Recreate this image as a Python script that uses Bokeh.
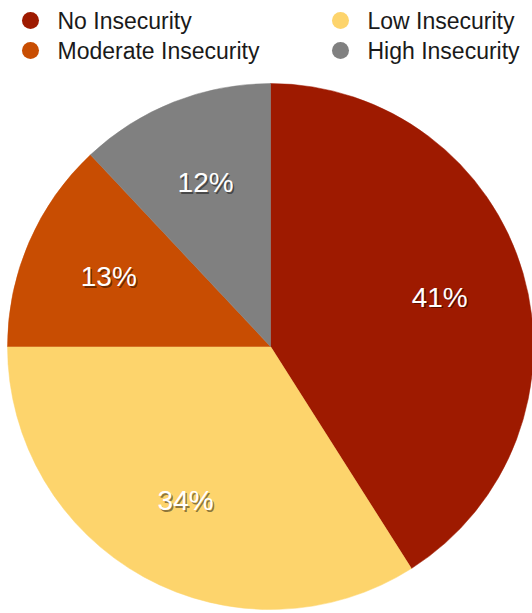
import numpy as np
from bokeh.plotting import figure
from bokeh.models import ColumnDataSource
from bokeh.core.properties import value
from bokeh.embed import file_html
from bokeh.resources import INLINE

categories = ["No Insecurity", "Low Insecurity", "Moderate Insecurity", "High Insecurity"]
shares = [41, 34, 13, 12]
colors = ["#9E1A00", "#FDD46C", "#C84D02", "#808080"]
labels = ["41%", "34%", "13%", "12%"]

W, H = 532, 613
cx, cy, R = 270, H - 346, 263

frac = np.array(shares, dtype=float) / sum(shares)
cum = np.concatenate([[0], np.cumsum(frac)])
start = np.pi / 2 - 2 * np.pi * cum[:-1]
end = np.pi / 2 - 2 * np.pi * cum[1:]
mid = (start + end) / 2

src = ColumnDataSource(dict(start=start, end=end, color=colors, cat=categories,
                            lx=cx + 0.67 * R * np.cos(mid), ly=cy + 0.67 * R * np.sin(mid),
                            lab=labels))

p = figure(width=W, height=H, x_range=(0, W), y_range=(0, H), output_backend="svg",
           toolbar_location=None, min_border=0, outline_line_color=None)
p.axis.visible = False
p.grid.visible = False

p.wedge(x=cx, y=cy, radius=R, start_angle="start", end_angle="end", direction="clock",
        fill_color="color", line_color="color", line_width=0.5, source=src)

# label shadow then label
p.text(x="lx", y="ly", text="lab", source=src, x_offset=1.5, y_offset=1.5,
       text_color="#000000", text_alpha=0.45, text_font=value("Liberation Sans"),
       text_font_size="28px", text_align="center", text_baseline="middle")
p.text(x="lx", y="ly", text="lab", source=src,
       text_color="#FFFFFF", text_font=value("Liberation Sans"),
       text_font_size="28px", text_align="center", text_baseline="middle")

# legend
order = [0, 2, 1, 3]
col_x = [30, 340]
row_y = [H - 20, H - 50]
leg_x = [col_x[i // 2] for i in range(4)]
leg_y = [row_y[i % 2] for i in range(4)]
leg = ColumnDataSource(dict(x=leg_x, y=leg_y, tx=[v + 27 for v in leg_x],
                            color=[colors[k] for k in order], cat=[categories[k] for k in order]))
p.scatter(x="x", y="y", size=17, fill_color="color", line_color=None, source=leg)
p.text(x="tx", y="y", text="cat", source=leg, text_color="#1a1a1a",
       text_font=value("Liberation Sans"), text_font_size="23px", text_baseline="middle")

open("out.html", "w").write(file_html(p, INLINE))
